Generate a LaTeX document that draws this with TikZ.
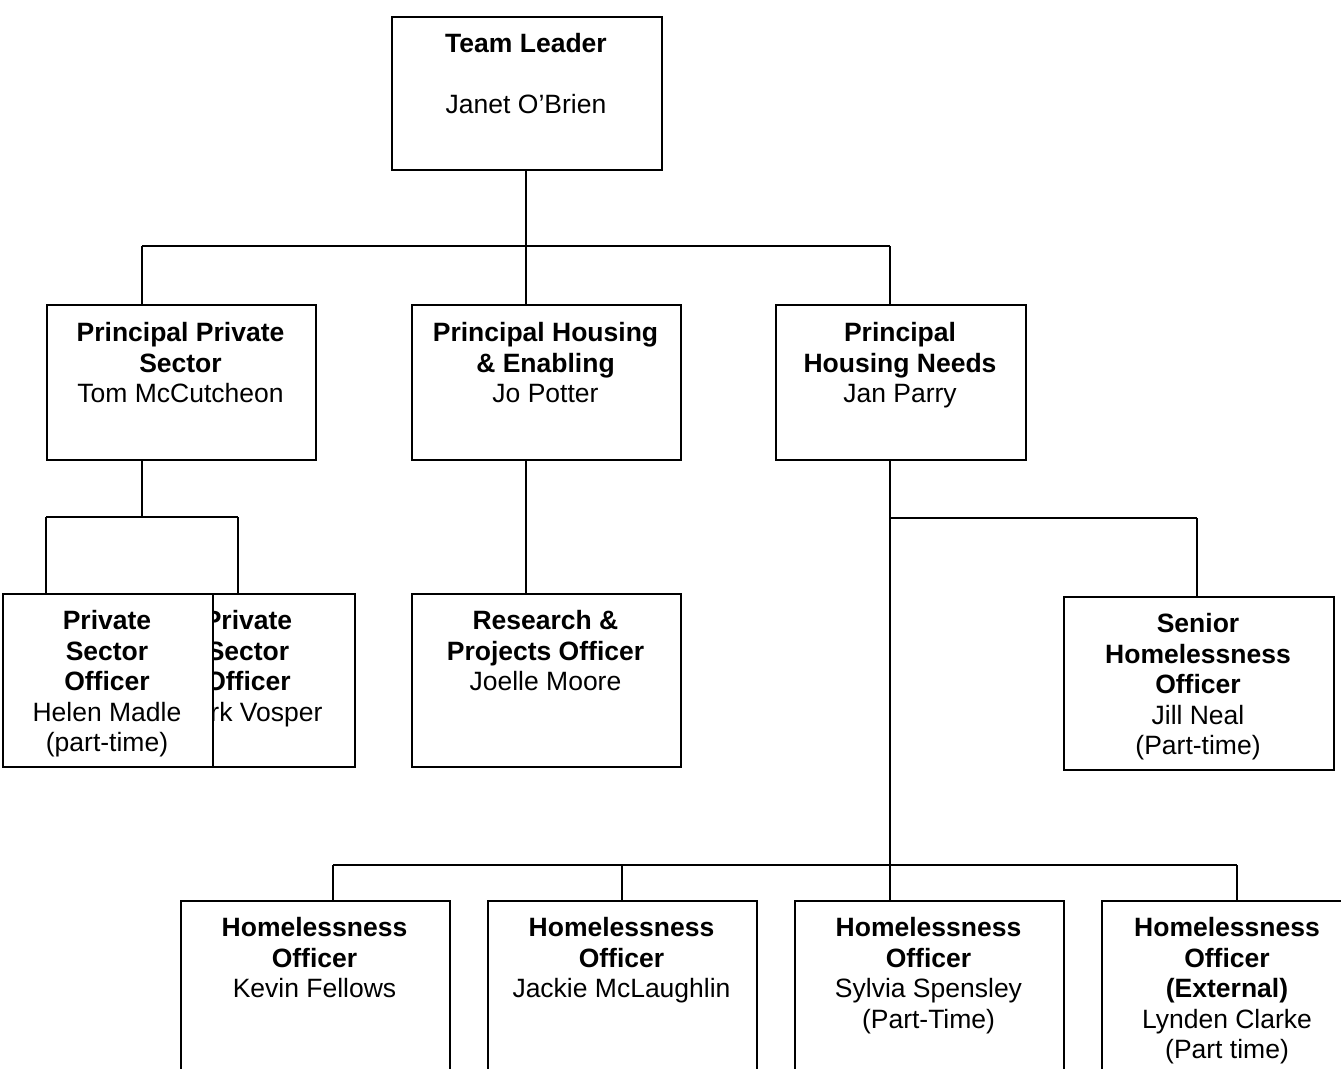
\documentclass[tikz,border=0pt]{standalone}
\usepackage{fontspec}
\setmainfont{Liberation Sans}
\begin{document}
\begin{tikzpicture}[x=1pt,y=-1pt,
  box/.style={draw, line width=2.2pt, fill=white, inner sep=0pt, anchor=north west},
  lbl/.style={anchor=north, align=center, inner sep=0pt, font=\fontsize{26.5}{30.6}\selectfont},
  conn/.style={draw, line width=1.8pt}]
\useasboundingbox (0,0) rectangle (1341,1068);
\clip (0,0) rectangle (1341,1068);
\fill[white] (0,0) rectangle (1341,1068);
% level 1
\node[box, minimum width=270pt, minimum height=153pt] (tl) at (391,16) {};
\node[lbl] (tlt) at (526,33) {\textbf{Team Leader}\\[30.6pt]Janet O’Brien};
% level 2
\node[box, minimum width=269pt, minimum height=155pt] (pps) at (46,304) {};
\node[lbl] (ppst) at (180.5,322) {\textbf{Principal Private}\\\textbf{Sector}\\Tom McCutcheon};
\node[box, minimum width=269pt, minimum height=155pt] (phe) at (411,304) {};
\node[lbl] (phet) at (545.5,322) {\textbf{Principal Housing}\\\textbf{\& Enabling}\\Jo Potter};
\node[box, minimum width=250pt, minimum height=155pt] (phn) at (775,304) {};
\node[lbl] (phnt) at (900,322) {\textbf{Principal}\\\textbf{Housing Needs}\\Jan Parry};
% level 3 left
\node[box, minimum width=212pt, minimum height=173pt] (psb) at (142,593) {};
\node[lbl] (psbt) at (248,610) {\textbf{Private}\\\textbf{Sector}\\\textbf{Officer}\\Mark Vosper};
\node[box, minimum width=210.5pt, minimum height=173pt] (psa) at (1.5,593) {};
\node[lbl] (psat) at (107,610) {\textbf{Private}\\\textbf{Sector}\\\textbf{Officer}\\Helen Madle\\(part-time)};
% research
\node[box, minimum width=269pt, minimum height=173pt] (rpo) at (411,593) {};
\node[lbl] (rpot) at (545.5,610) {\textbf{Research \&}\\\textbf{Projects Officer}\\Joelle Moore};
% senior
\node[box, minimum width=270pt, minimum height=173pt] (sho) at (1063,596) {};
\node[lbl] (shot) at (1198,613) {\textbf{Senior}\\\textbf{Homelessness}\\\textbf{Officer}\\Jill Neal\\(Part-time)};
% bottom row
\node[box, minimum width=269pt, minimum height=200pt] (ho1) at (180,900) {};
\node[lbl] (ho1t) at (314.5,917) {\textbf{Homelessness}\\\textbf{Officer}\\Kevin Fellows};
\node[box, minimum width=269pt, minimum height=200pt] (ho2) at (487,900) {};
\node[lbl] (ho2t) at (621.5,917) {\textbf{Homelessness}\\\textbf{Officer}\\Jackie McLaughlin};
\node[box, minimum width=269pt, minimum height=200pt] (ho3) at (794,900) {};
\node[lbl] (ho3t) at (928.5,917) {\textbf{Homelessness}\\\textbf{Officer}\\Sylvia Spensley\\(Part-Time)};
\node[box, minimum width=252pt, minimum height=200pt] (ho4) at (1101,900) {};
\node[lbl] (ho4t) at (1227,917) {\textbf{Homelessness}\\\textbf{Officer}\\\textbf{(External)}\\Lynden Clarke\\(Part time)};
% connectors
\coordinate (b1c) at (526,246);
\coordinate (b1l) at (142,246);
\coordinate (b1r) at (890,246);
\draw[conn] (b1c |- tl.south) -- (b1c);
\draw[conn] (b1l) -- (b1r);
\draw[conn] (b1l) -- (b1l |- pps.north);
\draw[conn] (b1c) -- (b1c |- phe.north);
\draw[conn] (b1r) -- (b1r |- phn.north);
% private sector
\coordinate (p1) at (142,459);
\coordinate (p1m) at (142,517);
\coordinate (p1l) at (46,517);
\coordinate (p1r) at (238,517);
\draw[conn] (p1) -- (p1m);
\draw[conn] (p1l) -- (p1r);
\draw[conn] (p1l) -- (p1l |- psa.north);
\draw[conn] (p1r) -- (p1r |- psb.north);
% housing & enabling
\coordinate (h1) at (526,459);
\draw[conn] (h1) -- (h1 |- rpo.north);
% housing needs
\coordinate (n1) at (890,459);
\coordinate (n1m) at (890,518);
\coordinate (n1r) at (1197,518);
\coordinate (n2) at (890,865);
\coordinate (n2l) at (333,865);
\coordinate (n2r) at (1237,865);
\coordinate (n2b) at (622,865);
\draw[conn] (n1) -- (n2);
\draw[conn] (n1m) -- (n1r);
\draw[conn] (n1r) -- (n1r |- sho.north);
\draw[conn] (n2l) -- (n2r);
\draw[conn] (n2l) -- (n2l |- ho1.north);
\draw[conn] (n2b) -- (n2b |- ho2.north);
\draw[conn] (n2) -- (n2 |- ho3.north);
\draw[conn] (n2r) -- (n2r |- ho4.north);
\end{tikzpicture}
\end{document}
